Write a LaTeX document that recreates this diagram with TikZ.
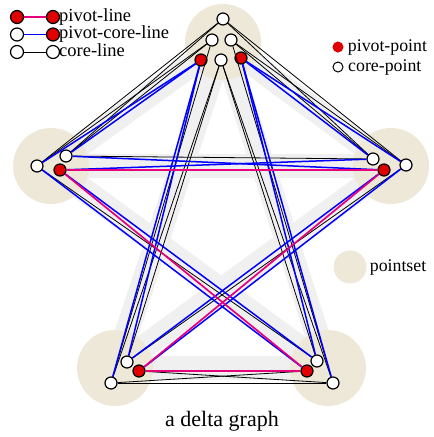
\documentclass[tikz,border=0pt]{standalone}
\usepackage{fontspec}
\setmainfont{Liberation Serif}
\usetikzlibrary{positioning}
\definecolor{setbeige}{RGB}{237,232,216}
\definecolor{bandgray}{RGB}{240,240,240}
\definecolor{pivotred}{RGB}{224,0,0}
\definecolor{pivotpink}{RGB}{230,0,126}
\tikzset{
  core/.style   = {circle, draw, line width=1.2pt, fill=white, inner sep=0pt, minimum size=12pt},
  pivot/.style  = {core, fill=pivotred},
  pset/.style   = {circle, fill=setbeige, inner sep=0pt, minimum size=76pt},
  band/.style   = {draw=bandgray, line width=24pt},
  pline/.style  = {draw=pivotpink, line width=1.7pt},
  pcline/.style = {draw=blue, line width=1.5pt},
  cline/.style  = {draw=black, line width=0.8pt},
  lbl/.style    = {font=\fontsize{17.8}{19}\selectfont, inner sep=0pt, anchor=west},
  biglbl/.style = {lbl, font=\fontsize{18.5}{20}\selectfont, text height=11pt, text depth=3pt}
}

\begin{document}
\begin{tikzpicture}[x=1pt, y=-1pt]
  \useasboundingbox (0,0) rectangle (434,437);
  % centres of the point sets
  \coordinate (cT) at (223,42);
  \coordinate (cL) at (51,166);
  \coordinate (cR) at (391,166);
  \coordinate (cB) at (115,368);
  \coordinate (cC) at (328,368);
  \foreach \a/\b in {cT/cL, cT/cR, cL/cR, cT/cB, cT/cC, cL/cC, cR/cB, cB/cC}
    \draw[band] (\a) -- (\b);
  \foreach \c in {cT, cL, cR, cB, cC}
    \node[pset] at (\c) {};

  % points
  \node[core]  (T1) at (223,19) {};
  \node[core]  (T2) at (212,40) {};
  \node[core]  (T3) at (231,40) {};
  \node[core]  (T4) at (221,60) {};
  \node[pivot] (TP1) at (201,60) {};
  \node[pivot] (TP2) at (241,58) {};
  \node[core]  (L1) at (37,166) {};
  \node[core]  (L2) at (66,156) {};
  \node[pivot] (LP) at (60,170) {};
  \node[core]  (R1) at (406,165) {};
  \node[core]  (R2) at (373,159) {};
  \node[pivot] (RP) at (384,170) {};
  \node[core]  (B1) at (111,383) {};
  \node[core]  (B2) at (127,362) {};
  \node[pivot] (BP) at (139,371) {};
  \node[core]  (C1) at (333,383) {};
  \node[core]  (C2) at (317,361) {};
  \node[pivot] (CP) at (307,371) {};

  % core-lines
  \foreach \a/\b in {T1/L1, T1/L2, T2/L1, T2/L2, T1/R1, T1/R2, T3/R1, T3/R2,
                     T2/B1, T4/B1, T4/B2, T3/C1, T4/C1, T4/C2,
                     L2/R2, L1/C2, R1/B2, B1/C1, B1/CP, BP/C1}
    \draw[cline] (\a) -- (\b);
  % pivot-core-lines
  \foreach \a/\b in {TP1/L1, TP1/L2, TP2/R1, TP2/R2, TP1/B1, TP1/B2, TP2/C1, TP2/C2,
                     LP/R2, L2/RP, L1/CP, LP/C2, R1/BP, RP/B2}
    \draw[pcline] (\a) -- (\b);
  % pivot-lines
  \foreach \a/\b in {LP/RP, LP/CP, RP/BP, BP/CP}
    \draw[pline] (\a) -- (\b);

  % legend
  \node[pivot, minimum size=13pt] (lg1a) at (17,17) {};
  \node[pivot, minimum size=13pt] (lg1b) at (53,17) {};
  \draw[pline] (lg1a) -- (lg1b);
  \node[biglbl] at (59,17) {pivot-line};
  \node[core, minimum size=13pt] (lg2a) at (17,34.5) {};
  \node[pivot, minimum size=13pt] (lg2b) at (53,34.5) {};
  \draw[pcline] (lg2a) -- (lg2b);
  \node[biglbl] at (59,34.5) {pivot-core-line};
  \node[core, minimum size=13pt] (lg3a) at (17,52) {};
  \node[core, minimum size=13pt] (lg3b) at (53,52) {};
  \draw[cline] (lg3a) -- (lg3b);
  \node[biglbl] at (59,52) {core-line};

  \node[circle, fill=pivotred, inner sep=0pt, minimum size=11pt] (lgp) at (338,47) {};
  \node[lbl, right=4pt of lgp] {pivot-point};
  \node[core, minimum size=10pt, line width=1pt] (lgc) at (338,67) {};
  \node[lbl, right=4.5pt of lgc] {core-point};
  \node[pset, minimum size=33pt] (lgs) at (350,267) {};
  \node[lbl, right=3pt of lgs] {pointset};

  \node[font=\fontsize{22}{24}\selectfont] (caption) at (222,421) {a delta graph};
\end{tikzpicture}
\end{document}
